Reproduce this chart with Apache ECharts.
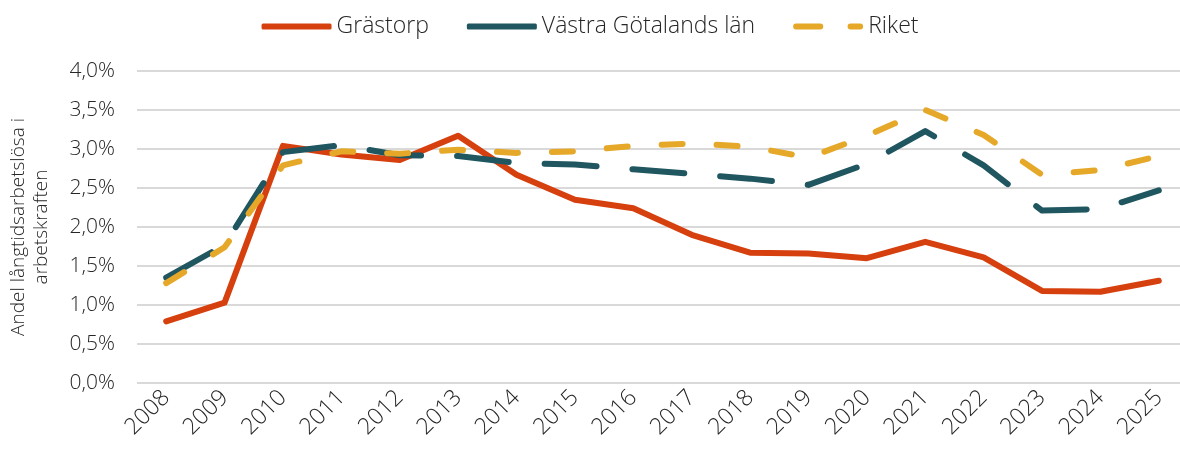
<!DOCTYPE html>
<html>
<head>
<meta charset="utf-8">
<script src="https://cdn.jsdelivr.net/npm/echarts@6/dist/echarts.min.js"></script>
<style>
  html, body { margin: 0; padding: 0; background: #fff; }
  #chart { width: 1180px; height: 450px; }
</style>
</head>
<body>
<div id="chart"></div>
<script>
// data (share of labour force, %)
const years = ['2008', '2009', '2010', '2011', '2012', '2013', '2014', '2015', '2016',
  '2017', '2018', '2019', '2020', '2021', '2022', '2023', '2024', '2025'];
const grastorp = [0.79, 1.03, 3.04, 2.93, 2.86, 3.17, 2.67, 2.35, 2.24,
  1.90, 1.67, 1.66, 1.60, 1.81, 1.61, 1.18, 1.17, 1.31];
const vastraGotaland = [1.35, 1.77, 2.96, 3.05, 2.92, 2.91, 2.82, 2.80, 2.74,
  2.68, 2.62, 2.54, 2.81, 3.23, 2.79, 2.21, 2.23, 2.47];
const riket = [1.28, 1.74, 2.79, 2.97, 2.94, 2.99, 2.95, 2.97, 3.04,
  3.07, 3.03, 2.89, 3.17, 3.50, 3.18, 2.67, 2.73, 2.91];

const font = '"Open Sans", Lato, sans-serif';
const textColor = '#262626';
const chart = echarts.init(document.getElementById('chart'));

// legend icons: plain bar for solid/long dash, two short dashes for Riket
const barIcon = 'roundRect';
const dashIcon = 'path://M3,0H28A3,3 0 0 1 28,6H3A3,3 0 0 1 3,0Z' +
  'M59,0H69A3,3 0 0 1 69,6H59A3,3 0 0 1 59,0Z';

const lineSeries = (name, data, color, dash) => ({
  name: name,
  type: 'line',
  data: data,
  symbol: 'none',
  lineStyle: { color: color, width: 6, type: dash, cap: 'round', join: 'round' },
  itemStyle: { color: color }
});

chart.setOption({
  animation: false,
  textStyle: { fontFamily: font, fontWeight: 300 },
  legend: {
    top: 10,
    left: 'center',
    itemWidth: 70,
    itemHeight: 6,
    itemGap: 38,
    symbolKeepAspect: false,
    textStyle: { fontSize: 23, color: textColor, fontFamily: font, fontWeight: 300 },
    data: [
      { name: 'Grästorp', icon: barIcon },
      { name: 'Västra Götalands län', icon: barIcon },
      { name: 'Riket', icon: dashIcon }
    ]
  },
  grid: { left: 137, right: -8, top: 71, bottom: 67, outerBoundsMode: 'none', containLabel: false },
  xAxis: {
    type: 'category',
    data: years,
    boundaryGap: true,
    axisLine: { show: false },
    axisTick: { show: false },
    axisLabel: {
      rotate: 45,
      fontSize: 23,
      color: textColor,
      fontFamily: font,
      fontWeight: 300,
      margin: 11,
      interval: 0
    }
  },
  yAxis: {
    type: 'value',
    min: 0,
    max: 4,
    interval: 0.5,
    name: 'Andel långtidsarbetslösa i\narbetskraften',
    nameLocation: 'middle',
    nameGap: 84,
    nameTextStyle: { fontSize: 19, color: textColor, fontFamily: font, fontWeight: 300, lineHeight: 23 },
    axisLabel: {
      fontSize: 21,
      color: textColor,
      fontFamily: font,
      fontWeight: 300,
      margin: 22,
      formatter: v => v.toFixed(1).replace('.', ',') + '%'
    },
    splitLine: { lineStyle: { color: '#d9d9d9', width: 2 } }
  },
  series: [
    lineSeries('Grästorp', grastorp, '#d6400e', 'solid'),
    lineSeries('Västra Götalands län', vastraGotaland, '#1f565f', [52, 36]),
    lineSeries('Riket', riket, '#e6a828', [21, 34])
  ]
});
</script>
</body>
</html>
